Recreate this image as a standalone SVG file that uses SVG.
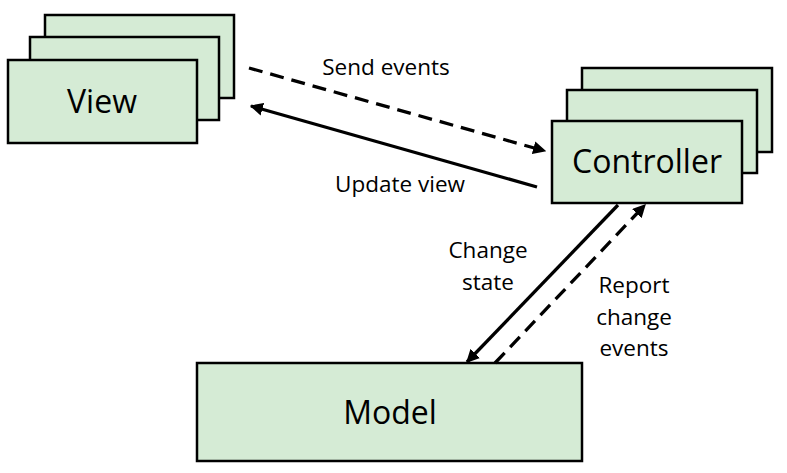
<svg xmlns="http://www.w3.org/2000/svg" width="787" height="473" viewBox="0 0 787 473">
<style>
.box{fill:#d5ebd5;stroke:#000;stroke-width:2.5}
.big{font-family:"Open Sans","Liberation Sans",sans-serif;font-size:32px;fill:#000;text-anchor:middle}
.lbl{font-family:"Open Sans","Liberation Sans",sans-serif;font-size:22.5px;fill:#000;text-anchor:middle}
.ln{stroke:#000;stroke-width:3.3;fill:none}
.dash{stroke-dasharray:14 8}
</style>
<defs>
<marker id="ah" viewBox="0 0 10 10" refX="9" refY="5" markerWidth="4" markerHeight="4" orient="auto" markerUnits="strokeWidth">
<path d="M0,0 L10,5 L0,10 z" fill="#000"/>
</marker>
</defs>
<g id="view">
<rect class="box" x="45" y="15" width="189" height="83"/>
<rect class="box" x="30" y="37" width="189" height="83"/>
<rect class="box" x="8" y="60" width="189" height="83"/>
<text class="big" x="102" y="113">View</text>
</g>
<g id="controller">
<rect class="box" x="582" y="68" width="190" height="84"/>
<rect class="box" x="567" y="90" width="190" height="83"/>
<rect class="box" x="552" y="121" width="190" height="82"/>
<text class="big" x="647" y="173">Controller</text>
</g>
<g id="model">
<rect class="box" x="197" y="363" width="385" height="98"/>
<text class="big" x="390" y="424">Model</text>
</g>
<g id="connectors">
<line class="ln dash" x1="249" y1="68" x2="545" y2="151" marker-end="url(#ah)"/>
<line class="ln" x1="537" y1="187" x2="251" y2="106" marker-end="url(#ah)"/>
<line class="ln" x1="618" y1="205" x2="467" y2="362" marker-end="url(#ah)"/>
<line class="ln dash" x1="495" y1="363" x2="645" y2="205" marker-end="url(#ah)"/>
</g>
<g id="labels">
<text class="lbl" x="386" y="75">Send events</text>
<text class="lbl" x="400" y="192">Update view</text>
<text class="lbl" x="488" y="258">Change</text>
<text class="lbl" x="488" y="290">state</text>
<text class="lbl" x="634" y="293">Report</text>
<text class="lbl" x="634" y="325">change</text>
<text class="lbl" x="634" y="356">events</text>
</g>
</svg>
